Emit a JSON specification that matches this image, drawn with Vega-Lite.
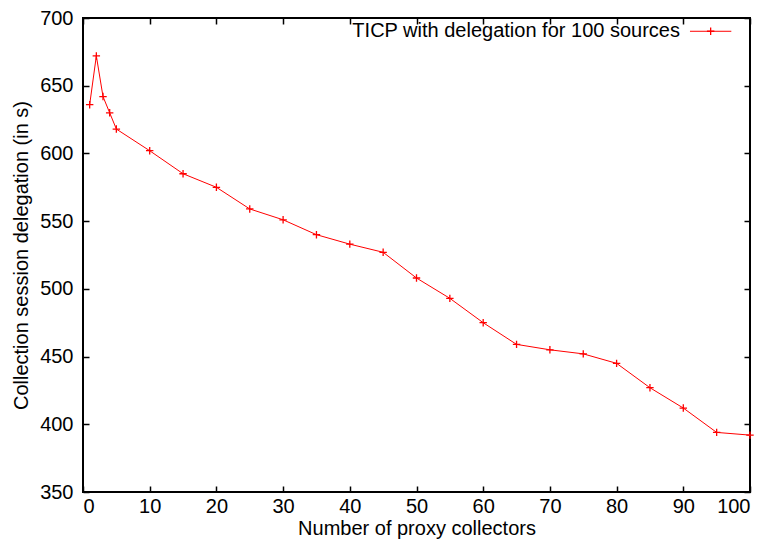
{
  "$schema": "https://vega.github.io/schema/vega-lite/v6.json",
  "width": 667,
  "height": 474,
  "autosize": {"type": "none"},
  "padding": {"left": 83, "top": 18, "right": 21, "bottom": 51},
  "background": "white",
  "config": {
    "font": "Liberation Sans",
    "view": {"stroke": "black", "strokeWidth": 2},
    "axis": {
      "domain": false,
      "grid": false,
      "tickColor": "black",
      "tickWidth": 1.5,
      "tickSize": -6,
      "labelFontSize": 20,
      "labelColor": "black",
      "labelFont": "Liberation Sans",
      "titleFont": "Liberation Sans",
      "titleFontSize": 20,
      "titleFontWeight": "normal",
      "titleColor": "black"
    }
  },
  "datasets": {
    "series": [
      {"collectors": 1, "delegation": 636},
      {"collectors": 2, "delegation": 672},
      {"collectors": 3, "delegation": 642},
      {"collectors": 4, "delegation": 630},
      {"collectors": 5, "delegation": 618},
      {"collectors": 10, "delegation": 602},
      {"collectors": 15, "delegation": 585},
      {"collectors": 20, "delegation": 575},
      {"collectors": 25, "delegation": 559},
      {"collectors": 30, "delegation": 551},
      {"collectors": 35, "delegation": 540},
      {"collectors": 40, "delegation": 533},
      {"collectors": 45, "delegation": 527},
      {"collectors": 50, "delegation": 508},
      {"collectors": 55, "delegation": 493},
      {"collectors": 60, "delegation": 475},
      {"collectors": 65, "delegation": 459},
      {"collectors": 70, "delegation": 455},
      {"collectors": 75, "delegation": 452},
      {"collectors": 80, "delegation": 445},
      {"collectors": 85, "delegation": 427},
      {"collectors": 90, "delegation": 412},
      {"collectors": 95, "delegation": 394},
      {"collectors": 100, "delegation": 392}
    ],
    "legendText": [{"x": 89.5, "y": 690.2, "label": "TICP with delegation for 100 sources"}],
    "legendLine": [{"x": 91.0, "x2": 97.2, "y": 690.2}],
    "legendPoint": [{"x": 94.1, "y": 690.2}]
  },
  "layer": [
    {
      "data": {"name": "series"},
      "mark": {"type": "line", "color": "#ff0000", "strokeWidth": 1},
      "encoding": {
        "x": {"field": "collectors", "type": "quantitative",
              "scale": {"domain": [0, 100], "nice": false},
              "axis": {"orient": "bottom", "title": "Number of proxy collectors", "labelPadding": 10, "titlePadding": 2, "values": [0,10,20,30,40,50,60,70,80,90,100]}},
        "y": {"field": "delegation", "type": "quantitative",
              "scale": {"domain": [350, 700], "nice": false, "zero": false},
              "axis": {"orient": "left", "title": "Collection session delegation (in s)", "labelPadding": 16, "titlePadding": 8, "values": [350,400,450,500,550,600,650,700]}}
      }
    },
    {
      "data": {"name": "series"},
      "mark": {"type": "point", "shape": "M-1,0H1M0,-1V1", "filled": false, "color": "#ff0000", "size": 55, "strokeWidth": 1.3, "opacity": 1},
      "encoding": {
        "x": {"field": "collectors", "type": "quantitative",
              "axis": {"orient": "top", "labels": false, "title": null, "values": [0,10,20,30,40,50,60,70,80,90,100]}},
        "y": {"field": "delegation", "type": "quantitative",
              "axis": {"orient": "right", "labels": false, "title": null, "values": [350,400,450,500,550,600,650,700]}}
      }
    },
    {
      "data": {"name": "legendText"},
      "mark": {"type": "text", "align": "right", "baseline": "middle", "fontSize": 20, "font": "Liberation Sans", "color": "black"},
      "encoding": {
        "x": {"field": "x", "type": "quantitative", "axis": null},
        "y": {"field": "y", "type": "quantitative", "axis": null},
        "text": {"field": "label"}
      }
    },
    {
      "data": {"name": "legendLine"},
      "mark": {"type": "rule", "color": "#ff0000", "strokeWidth": 1},
      "encoding": {
        "x": {"field": "x", "type": "quantitative", "axis": null},
        "x2": {"field": "x2"},
        "y": {"field": "y", "type": "quantitative", "axis": null}
      }
    },
    {
      "data": {"name": "legendPoint"},
      "mark": {"type": "point", "shape": "M-1,0H1M0,-1V1", "filled": false, "color": "#ff0000", "size": 55, "strokeWidth": 1.3, "opacity": 1},
      "encoding": {
        "x": {"field": "x", "type": "quantitative", "axis": null},
        "y": {"field": "y", "type": "quantitative", "axis": null}
      }
    }
  ],
  "resolve": {"axis": {"x": "independent", "y": "independent"}}
}
